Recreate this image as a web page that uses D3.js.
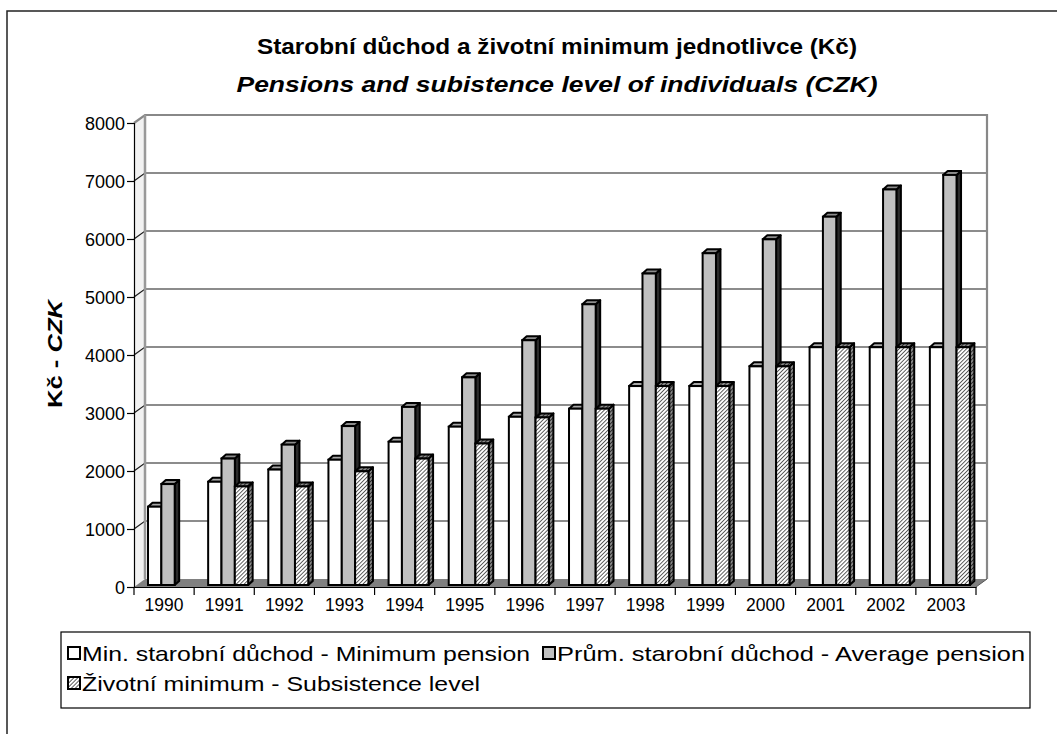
<!DOCTYPE html>
<html lang="cs">
<head>
    <meta charset="utf-8">
    <title>Starobní důchod a životní minimum</title>
    <script src="https://d3js.org/d3.v7.min.js"></script>
    <style>
        body {
            margin: 0;
            background: #fff;
        }
        svg text {
            font-family: "Liberation Sans", Arial, sans-serif;
            fill: #000;
        }
    </style>
</head>
<body>
<div id="chart"></div>

<script type="text/javascript">
    // Data
    var years = ["1990", "1991", "1992", "1993", "1994", "1995", "1996",
        "1997", "1998", "1999", "2000", "2001", "2002", "2003"];
    var minPension = [1350, 1780, 1990, 2160, 2470, 2730, 2900, 3040, 3430, 3430, 3770, 4100, 4100, 4100];
    var avgPension = [1740, 2180, 2420, 2740, 3070, 3580, 4220, 4840, 5370, 5720, 5960, 6350, 6820, 7070];
    var subsistence = [null, 1700, 1700, 1960, 2180, 2440, 2890, 3040, 3430, 3430, 3770, 4100, 4100, 4100];
    var seriesNames = [
        "Min. starobní důchod - Minimum pension",
        "Prům. starobní důchod - Average pension",
        "Životní minimum - Subsistence level"
    ];
    var yTicks = [0, 1000, 2000, 3000, 4000, 5000, 6000, 7000, 8000];

    var w = 1057;
    var h = 734;

    // plot geometry (front plane + depth of the 3d box)
    var pLeft = 134, pRight = 976, pTop = 123, pBottom = 587;
    var wallDx = 11, wallDy = 8;
    var barDx = 4.5, barDy = 4;

    var svg = d3.select("#chart")
        .append("svg")
        .attr("width", w)
        .attr("height", h);

    // hatch patterns
    var defs = svg.append("defs");
    var makeHatch = function (id, bg, fg) {
        var p = defs.append("pattern")
            .attr("id", id)
            .attr("width", 2.8)
            .attr("height", 2.8)
            .attr("patternUnits", "userSpaceOnUse")
            .attr("patternTransform", "rotate(45)");
        p.append("rect").attr("width", 2.8).attr("height", 2.8).attr("fill", bg);
        p.append("line")
            .attr("x1", 0).attr("y1", 0).attr("x2", 0).attr("y2", 2.8)
            .attr("stroke", fg).attr("stroke-width", 1.5);
    };
    makeHatch("hatch", "#ffffff", "#2a2a2a");
    makeHatch("hatchDark", "#8a8a8a", "#111111");

    // outer frame
    svg.append("rect")
        .attr("x", 7)
        .attr("y", 11)
        .attr("width", w + 20)
        .attr("height", h + 20)
        .attr("fill", "none")
        .attr("stroke", "#222")
        .attr("stroke-width", 1.5);

    // scales
    var xScale = d3.scaleBand()
        .domain(years)
        .range([pLeft, pRight]);

    var bw = xScale.bandwidth();
    var xInner = d3.scaleBand()
        .domain([0, 1, 2])
        .range([bw * 0.233, bw * 0.233 + 40]);

    var yScale = d3.scaleLinear()
        .domain([0, 8000])
        .range([pBottom, pTop]);

    // bars sit half way into the depth
    var yBar = function (v) {
        return yScale(v) - 2;
    };

    // left side wall
    svg.append("polygon")
        .attr("points", [[pLeft, pTop], [pLeft + wallDx, pTop - wallDy],
            [pLeft + wallDx, pBottom - wallDy], [pLeft, pBottom]].join(" "))
        .attr("fill", "#f2f2f2")
        .attr("stroke", "none");

    // floor
    svg.append("polygon")
        .attr("points", [[pLeft, pBottom], [pRight, pBottom],
            [pRight + wallDx, pBottom - wallDy], [pLeft + wallDx, pBottom - wallDy]].join(" "))
        .attr("fill", "#808080")
        .attr("stroke", "none");

    // gridlines on the wall
    svg.selectAll(".grid")
        .data(yTicks.filter(function (d) { return d > 0; }))
        .enter()
        .append("polyline")
        .attr("class", "grid")
        .attr("points", function (d) {
            var y = yScale(d);
            return [[pLeft, y], [pLeft + wallDx, y - wallDy], [pRight + wallDx, y - wallDy]].join(" ");
        })
        .attr("fill", "none")
        .attr("stroke", function (d) { return d === 8000 ? "none" : "#1a1a1a"; })
        .attr("stroke-width", 1.2);

    // back wall frame
    svg.append("polyline")
        .attr("points", [[pLeft, pTop], [pLeft + wallDx, pTop - wallDy], [pRight + wallDx, pTop - wallDy],
            [pRight + wallDx, pBottom - wallDy]].join(" "))
        .attr("fill", "none")
        .attr("stroke", "#888")
        .attr("stroke-width", 2.2);
    svg.append("line")
        .attr("x1", pLeft + wallDx).attr("y1", pTop - wallDy)
        .attr("x2", pLeft + wallDx).attr("y2", pBottom - wallDy)
        .attr("stroke", "#999")
        .attr("stroke-width", 2.5);

    // bar data
    var series = [minPension, avgPension, subsistence];
    var faces = [
        {front: "#ffffff", top: "#a8a8a8", side: "#7a7a7a"},
        {front: "#c0c0c0", top: "#8c8c8c", side: "#2a2a2a"},
        {front: "url(#hatch)", top: "url(#hatchDark)", side: "url(#hatchDark)"}
    ];

    var bars = [];
    years.forEach(function (yr, i) {
        series.forEach(function (s, k) {
            if (s[i] !== null) {
                bars.push({year: yr, k: k, value: s[i]});
            }
        });
    });

    var barW = xInner.bandwidth();
    var barG = svg.selectAll(".bar")
        .data(bars)
        .enter()
        .append("g")
        .attr("class", "bar");

    var strokeW = 2;

    barG.append("polygon")
        .attr("points", function (d) {
            var x0 = xScale(d.year) + xInner(d.k), x1 = x0 + barW;
            var y0 = yBar(d.value), yb = yBar(0);
            return [[x1, y0], [x1 + barDx, y0 - barDy], [x1 + barDx, yb - barDy], [x1, yb]].join(" ");
        })
        .attr("fill", function (d) { return faces[d.k].side; })
        .attr("stroke", "#000")
        .attr("stroke-width", strokeW)
        .attr("stroke-linejoin", "round");

    barG.append("polygon")
        .attr("points", function (d) {
            var x0 = xScale(d.year) + xInner(d.k), x1 = x0 + barW;
            var y0 = yBar(d.value);
            return [[x0, y0], [x0 + barDx, y0 - barDy], [x1 + barDx, y0 - barDy], [x1, y0]].join(" ");
        })
        .attr("fill", function (d) { return faces[d.k].top; })
        .attr("stroke", "#000")
        .attr("stroke-width", strokeW)
        .attr("stroke-linejoin", "round");

    barG.append("rect")
        .attr("x", function (d) { return xScale(d.year) + xInner(d.k); })
        .attr("y", function (d) { return yBar(d.value); })
        .attr("width", barW)
        .attr("height", function (d) { return yBar(0) - yBar(d.value); })
        .attr("fill", function (d) { return faces[d.k].front; })
        .attr("stroke", "#000")
        .attr("stroke-width", strokeW);

    // y axis
    var yAxis = d3.axisLeft(yScale)
        .tickValues(yTicks)
        .tickSize(7)
        .tickPadding(2)
        .tickFormat(d3.format("d"));

    var yG = svg.append("g")
        .attr("transform", "translate(" + pLeft + ",0)")
        .call(yAxis);
    yG.select(".domain").attr("stroke", "#000").attr("stroke-width", 1.2);
    yG.selectAll(".tick line").attr("stroke", "#000").attr("stroke-width", 1.2);
    yG.selectAll(".tick text")
        .attr("font-size", "18px")
        .attr("font-family", "Liberation Sans, Arial, sans-serif")
        .attr("dy", "0.34em");

    // x axis (ticks between categories)
    var xAxis = d3.axisBottom(xScale)
        .tickSize(0)
        .tickPadding(12);
    var xG = svg.append("g")
        .attr("transform", "translate(0," + pBottom + ")")
        .call(xAxis);
    xG.select(".domain").attr("stroke", "#000").attr("stroke-width", 1.2);
    xG.selectAll(".tick text")
        .attr("font-size", "17.5px")
        .attr("font-family", "Liberation Sans, Arial, sans-serif");

    var bounds = years.map(function (d) { return xScale(d); }).concat([pRight]);
    svg.selectAll(".xtick")
        .data(bounds)
        .enter()
        .append("line")
        .attr("class", "xtick")
        .attr("x1", function (d) { return d; })
        .attr("x2", function (d) { return d; })
        .attr("y1", pBottom)
        .attr("y2", pBottom + 8)
        .attr("stroke", "#000")
        .attr("stroke-width", 1.2);

    svg.append("line")
        .attr("x1", pRight).attr("y1", pBottom)
        .attr("x2", pRight + wallDx).attr("y2", pBottom - wallDy)
        .attr("stroke", "#555")
        .attr("stroke-width", 1);

    // titles
    svg.append("text")
        .attr("x", 557)
        .attr("y", 54)
        .attr("text-anchor", "middle")
        .attr("font-size", "22px")
        .attr("font-weight", "bold")
        .attr("textLength", 600)
        .attr("lengthAdjust", "spacingAndGlyphs")
        .text("Starobní důchod a životní minimum jednotlivce (Kč)");

    svg.append("text")
        .attr("x", 557)
        .attr("y", 92)
        .attr("text-anchor", "middle")
        .attr("font-size", "22px")
        .attr("font-weight", "bold")
        .attr("font-style", "italic")
        .attr("textLength", 641)
        .attr("lengthAdjust", "spacingAndGlyphs")
        .text("Pensions and subistence level of individuals (CZK)");

    // y axis title
    var yTitle = svg.append("text")
        .attr("transform", "translate(62,354) rotate(-90)")
        .attr("text-anchor", "middle")
        .attr("font-size", "20px")
        .attr("font-weight", "bold")
        .attr("textLength", 108)
        .attr("lengthAdjust", "spacingAndGlyphs");
    yTitle.append("tspan").text("Kč - ");
    yTitle.append("tspan").attr("font-style", "italic").text("CZK");

    // legend
    var legend = svg.append("g");
    legend.append("rect")
        .attr("x", 61)
        .attr("y", 632)
        .attr("width", 969)
        .attr("height", 76)
        .attr("fill", "#fff")
        .attr("stroke", "#000")
        .attr("stroke-width", 1.2);

    var legendItems = [
        {x: 68, y: 653, len: 448},
        {x: 543, y: 653, len: 468},
        {x: 68, y: 683, len: 398}
    ];
    var legendG = legend.selectAll(".item")
        .data(seriesNames)
        .enter()
        .append("g")
        .attr("class", "item")
        .attr("transform", function (d, i) {
            return "translate(" + legendItems[i].x + "," + legendItems[i].y + ")";
        });

    legendG.append("rect")
        .attr("x", 0)
        .attr("y", -6)
        .attr("width", 12)
        .attr("height", 12)
        .attr("fill", function (d, i) { return faces[i].front; })
        .attr("stroke", "#000")
        .attr("stroke-width", 2);

    legendG.append("text")
        .attr("x", 14)
        .attr("y", 7.5)
        .attr("font-size", "21px")
        .attr("textLength", function (d, i) { return legendItems[i].len; })
        .attr("lengthAdjust", "spacingAndGlyphs")
        .text(function (d) { return d; });
</script>
</body>
</html>
